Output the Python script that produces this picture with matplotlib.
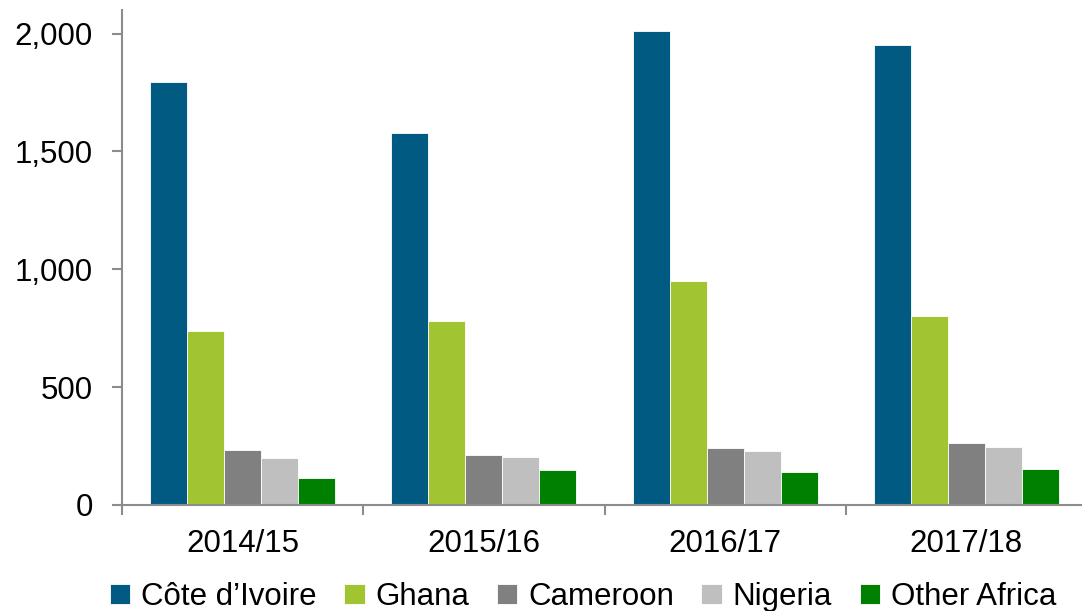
import numpy as np
import matplotlib
matplotlib.use("Agg")
import matplotlib.pyplot as plt
from matplotlib.ticker import FuncFormatter

plt.rcParams['font.family'] = ['Liberation Sans', 'DejaVu Sans']

seasons = ["2014/15", "2015/16", "2016/17", "2017/18"]
series_names = ["Côte d\u2019Ivoire", "Ghana", "Cameroon", "Nigeria", "Other Africa"]
cote_divoire = [1795, 1580, 2010, 1950]
ghana = [740, 780, 950, 800]
cameroon = [233, 212, 243, 262]
nigeria = [198, 202, 228, 244]
other_africa = [115, 150, 142, 153]

colors = ["#005A82", "#A1C530", "#808080", "#BFBFBF", "#008000"]
values = [cote_divoire, ghana, cameroon, nigeria, other_africa]

fig = plt.figure(figsize=(10.82, 6.11), dpi=100)
ax = fig.add_axes([122 / 1082, 106 / 611, 965 / 1082, 495 / 611])

x = np.arange(len(seasons))
w = 0.1533
for i, (name, vals, c) in enumerate(zip(series_names, values, colors)):
    ax.bar(x + (i - 2) * w, vals, width=w, color=c, edgecolor="white", linewidth=0.6, label=name)

ax.set_xlim(-0.5, len(seasons) - 0.5)
ax.set_ylim(0, 2100)
ax.set_yticks([0, 500, 1000, 1500, 2000])
ax.yaxis.set_major_formatter(FuncFormatter(lambda v, p: f"{int(v):,}"))

ax.set_xticks(x)
ax.set_xticklabels(seasons)
ax.set_xticks(np.arange(len(seasons) + 1) - 0.5, minor=True)

spine_col = "#8C8C8C"
for s in ["top", "right"]:
    ax.spines[s].set_visible(False)
for s in ["left", "bottom"]:
    ax.spines[s].set_color(spine_col)
    ax.spines[s].set_linewidth(1.5)

ax.tick_params(axis="y", length=7, width=1.5, color=spine_col, labelsize=22.5, pad=14)
ax.tick_params(axis="x", which="major", length=0, labelsize=22.5, pad=17)
ax.tick_params(axis="x", which="minor", length=7, width=1.5, color=spine_col)

fig.legend(loc="center", bbox_to_anchor=(583 / 1082, 1 - 597 / 611), ncol=5, frameon=False,
           fontsize=22.5, handlelength=0.65, handleheight=0.65, handletextpad=0.35,
           columnspacing=0.88, borderpad=0, borderaxespad=0)

fig.savefig("out.png", dpi=100)
